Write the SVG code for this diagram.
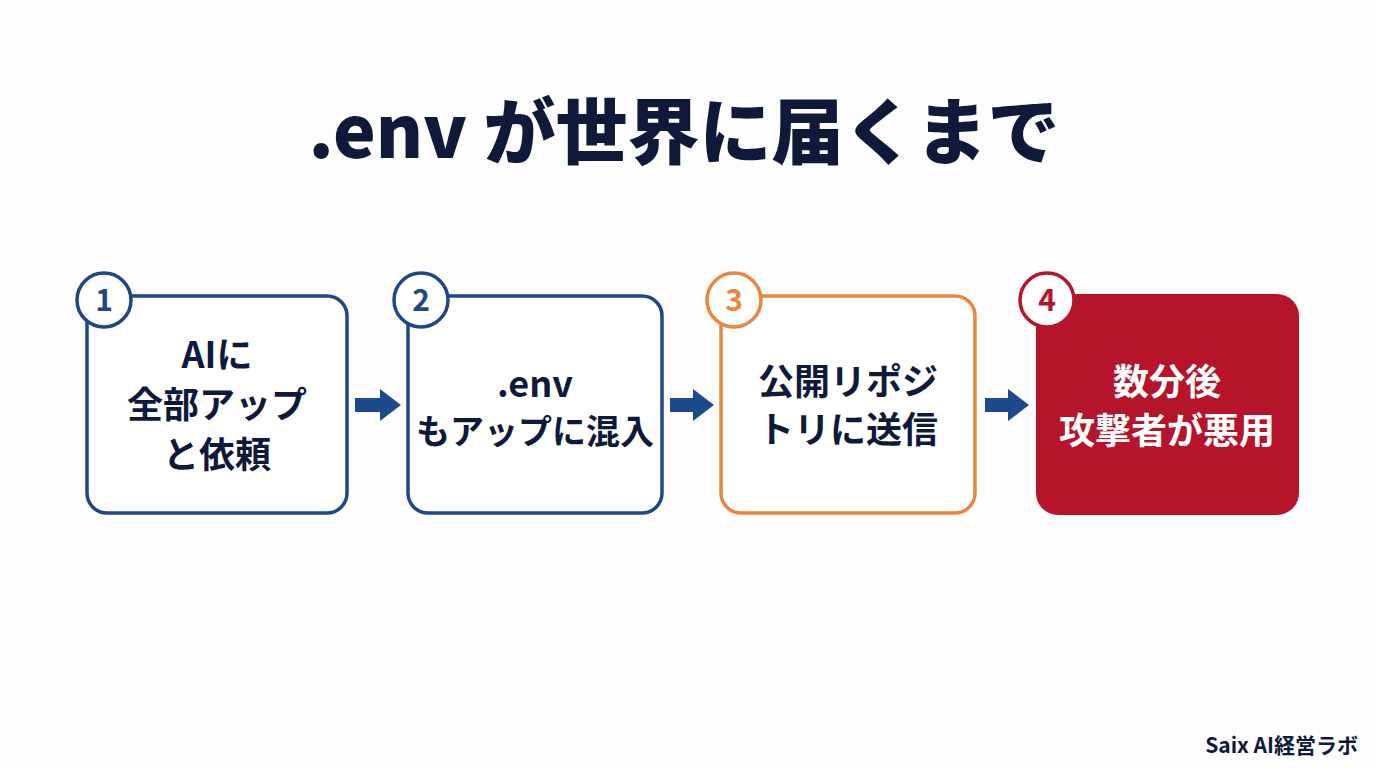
<svg xmlns="http://www.w3.org/2000/svg" width="1376" height="768" viewBox="0 0 1376 768">
<defs>
<style>
.t{font-family:"Noto Sans CJK JP","Noto Sans",sans-serif;font-weight:700;text-anchor:middle}
.title{font-size:72px;fill:#0f1a3a;font-weight:900}
.lbl{font-size:36px;fill:#0f1a3a}
.lblw{font-size:36px;fill:#ffffff}
.num{font-size:30px}
.box{fill:#ffffff;stroke-width:3.5}
.circ{fill:#ffffff;stroke-width:3.5}
.arr{fill:#1d4a8c}
</style>
</defs>
<rect width="1376" height="768" fill="#fdfdfd"/>
<text class="t title" x="684" y="158">.env が世界に届くまで</text>

<g id="connectors">
<path class="arr" d="M355 398 H380 V389 L401 405 L380 421 V412 H355 Z"/>
<path class="arr" d="M670 398 H693 V389 L714 405 L693 421 V412 H670 Z"/>
<path class="arr" d="M985 398 H1008 V389 L1029 405 L1008 421 V412 H985 Z"/>
</g>

<g id="node1">
<rect class="box" x="87" y="296" width="260" height="217" rx="20" stroke="#1f4788"/>
<circle class="circ" cx="104" cy="300" r="27" stroke="#1f4788"/>
<text class="t num" x="104" y="311" fill="#1f4788">1</text>
<text class="t lbl" x="217" y="368">AIに</text>
<text class="t lbl" x="217" y="418">全部アップ</text>
<text class="t lbl" x="217" y="468">と依頼</text>
</g>

<g id="node2">
<rect class="box" x="408" y="296" width="254" height="217" rx="20" stroke="#1f4788"/>
<circle class="circ" cx="421" cy="300" r="27" stroke="#1f4788"/>
<text class="t num" x="421" y="311" fill="#1f4788">2</text>
<text class="t lbl" x="535" y="397">.env</text>
<text class="t lbl" x="535" y="444" style="font-size:34px">もアップに混入</text>
</g>

<g id="node3">
<rect class="box" x="721" y="296" width="254" height="217" rx="20" stroke="#e8883f"/>
<circle class="circ" cx="734" cy="300" r="27" stroke="#e8883f"/>
<text class="t num" x="734" y="311" fill="#e8883f">3</text>
<text class="t lbl" x="848" y="395">公開リポジ</text>
<text class="t lbl" x="848" y="443">トリに送信</text>
</g>

<g id="node4">
<rect x="1036" y="294" width="263" height="221" rx="22" fill="#b5142a"/>
<circle class="circ" cx="1047" cy="300" r="27" stroke="#b5142a"/>
<text class="t num" x="1047" y="311" fill="#b5142a">4</text>
<text class="t lblw" x="1167" y="395">数分後</text>
<text class="t lblw" x="1167" y="444">攻撃者が悪用</text>
</g>

<text class="t" x="1358" y="753" style="text-anchor:end;font-size:21px;fill:#0f1a3a">Saix AI経営ラボ</text>
</svg>
